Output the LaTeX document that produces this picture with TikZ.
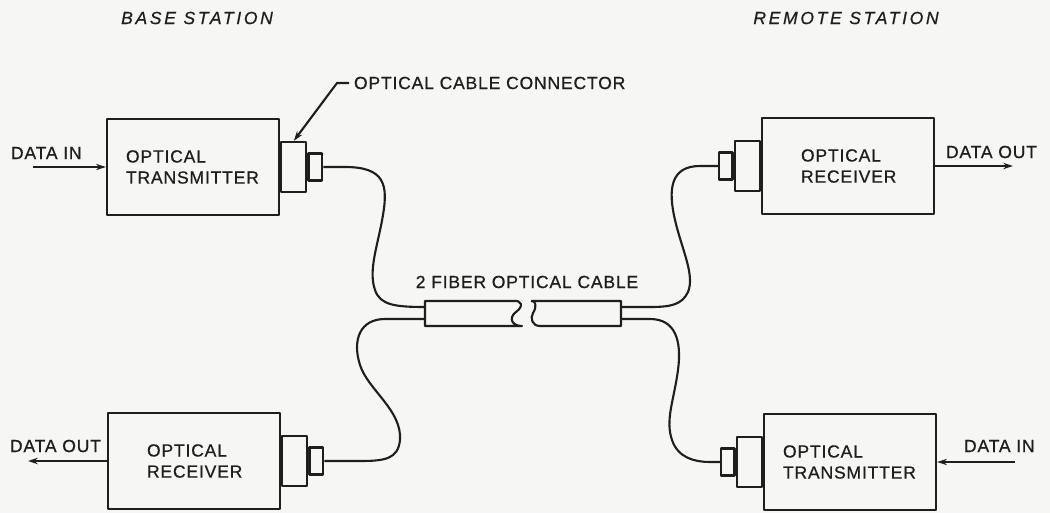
\documentclass[tikz,border=0pt]{standalone}
\usepackage{fontspec}
\setmainfont{Liberation Sans}[LetterSpace=4.5, FakeBold=0.6]
\newfontfamily\titlefont[LetterSpace=15, FakeBold=0.6]{Liberation Sans}
\usetikzlibrary{arrows.meta, positioning}
\definecolor{paper}{HTML}{F6F6F4}
\definecolor{ink}{HTML}{1E1E1E}
\tikzset{
  sheet/.style={x=0.025cm, y=-0.025cm, >={Stealth[length=7pt, width=4.5pt]},
    line join=round, every node/.style={font=\fontsize{12.5}{15}\selectfont, text=ink}},
  unit/.style={draw=ink, line width=1.6pt, minimum width=4.3cm, minimum height=2.4cm,
    align=left, inner ysep=0pt},
  txbox/.style={unit, inner xsep=0.475cm, text width=3.35cm},
  rxbox/.style={unit, inner xsep=0.975cm, text width=2.35cm},
  plug/.style={draw=ink, line width=1.6pt, minimum width=0.625cm, minimum height=1.25cm, inner sep=0pt},
  pin/.style={draw=ink, line width=1.6pt, minimum width=0.34cm, minimum height=0.675cm, inner sep=0pt},
  fiber/.style={draw=ink, line width=1.5pt},
  sig/.style={->, draw=ink, line width=1.5pt},
  ttl/.style={font=\titlefont\itshape\fontsize{12.5}{15}\selectfont},
}

\begin{document}
\begin{tikzpicture}[sheet]
  % paper
  \fill[paper] (0,0) rectangle (1050,513);
  \useasboundingbox (0,0) rectangle (1050,513);
  % station titles
  \node[ttl] (basettl) at (197,18) {BASE STATION};
  \node[ttl] (remttl) at (846,18) {REMOTE STATION};
  % terminal units
  \node[txbox] (btx) at (193,167) {OPTICAL\\TRANSMITTER};
  \node[rxbox] (brx) at (194,461) {OPTICAL\\RECEIVER};
  \node[rxbox] (rrx) at (848,166) {OPTICAL\\RECEIVER};
  \node[txbox] (rtx) at (850,462) {OPTICAL\\TRANSMITTER};
  % cable connectors on each unit
  \node[plug, right=0pt of btx] (btxplug) {};
  \node[pin, right=0pt of btxplug] (btxpin) {};
  \node[plug, right=0pt of brx] (brxplug) {};
  \node[pin, right=0pt of brxplug] (brxpin) {};
  \node[plug, left=0pt of rrx] (rrxplug) {};
  \node[pin, left=0pt of rrxplug] (rrxpin) {};
  \node[plug, left=0pt of rtx] (rtxplug) {};
  \node[pin, left=0pt of rtxplug] (rtxpin) {};
  % connector call-out
  \node[anchor=west] (conlbl) at (349,83) {OPTICAL CABLE CONNECTOR};
  \draw[sig] (conlbl.west) -- ++(-12,0) -- (btxplug.north);
  % data in / data out
  \coordinate (bin) at (33,167);
  \coordinate (bout) at (28,461);
  \coordinate (rout) at (1013,166);
  \coordinate (rin) at (1015,462);
  \draw[sig] (bin) -- (btx.west);
  \draw[sig] (brx.west) -- (bout);
  \draw[sig] (rrx.east) -- (rout);
  \draw[sig] (rin) -- (rtx.east);
  \node[anchor=west] (binlbl) at (6,153) {DATA IN};
  \node[anchor=west] (boutlbl) at (5,446) {DATA OUT};
  \node[anchor=west] (routlbl) at (941,152) {DATA OUT};
  \node[anchor=west] (rinlbl) at (959,446) {DATA IN};
  % two-fiber cable, broken in the middle
  \draw[fiber] (513,301) -- (425,301) -- (425,326) -- (522,326)
    .. controls (512,326) and (508,318) .. (516,312)
    .. controls (524,306) and (522,300) .. (513,301);
  \draw[fiber] (531,301) -- (621,301) -- (621,326) -- (540,326)
    .. controls (532,326) and (530,318) .. (533,313)
    .. controls (537,307) and (536,300) .. (531,301);
  \node (cablelbl) at (527,282) {2 FIBER OPTICAL CABLE};
  \coordinate (cabla) at (425,307);
  \coordinate (cablb) at (425,319);
  \coordinate (cabra) at (621,307);
  \coordinate (cabrb) at (621,319);
  % fibers
  \draw[fiber] (btxpin.east) -- (345,167) .. controls (385,167) and (388,185) .. (383,215)
    .. controls (378,245) and (368,270) .. (375,290) .. controls (380,305) and (395,307) .. (cabla);
  \draw[fiber] (cablb) -- (385,319) .. controls (360,319) and (352,340) .. (360,365)
    .. controls (368,390) and (402,410) .. (400,440) .. controls (398,459) and (385,461) .. (360,461)
    -- (brxpin.east);
  \draw[fiber] (rrxpin.west) -- (700,166) .. controls (670,166) and (668,190) .. (675,220)
    .. controls (682,250) and (695,275) .. (688,292) .. controls (682,305) and (670,307) .. (650,307)
    -- (cabra);
  \draw[fiber] (cabrb) -- (650,319) .. controls (675,319) and (682,340) .. (678,370)
    .. controls (674,400) and (665,420) .. (672,440) .. controls (678,458) and (695,462) .. (710,462)
    -- (rtxpin.west);
\end{tikzpicture}
\end{document}
